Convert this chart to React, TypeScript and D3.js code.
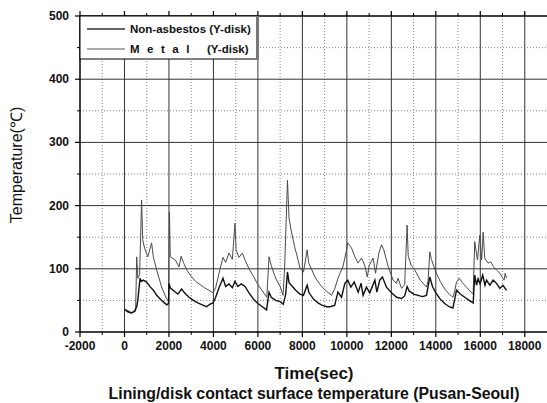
import React from "react";
import * as d3 from "d3";

const seriesNames = ["Non-asbestos (Y-disk)", "Metal (Y-disk)"];

// Non-asbestos (Y-disk) — lower, dark line: [time sec, temperature °C]
const nonAsbestos: [number, number][] = [
  [0, 36], [150, 32], [300, 30], [450, 33], [550, 40], [600, 50], [700, 85], [760, 80], [850, 82],
  [990, 79], [1170, 71], [1300, 66], [1450, 58], [1670, 50], [1900, 43], [1980, 45], [2000, 77],
  [2060, 70], [2180, 66], [2400, 60], [2570, 68], [2700, 62], [2900, 55], [3100, 50], [3300, 46],
  [3500, 43], [3690, 40], [3850, 44], [3980, 46], [4100, 55], [4250, 70], [4430, 85], [4550, 72],
  [4700, 76], [4850, 70], [4970, 80], [5100, 72], [5250, 76], [5420, 72], [5600, 62], [5800, 52],
  [6000, 45], [6200, 40], [6390, 35], [6500, 63], [6600, 55], [6800, 50], [7000, 48], [7140, 44],
  [7250, 60], [7330, 95], [7400, 78], [7550, 72], [7700, 66], [7890, 60], [8050, 58], [8215, 74],
  [8300, 62], [8500, 52], [8700, 46], [8900, 42], [9100, 40], [9240, 40], [9450, 42], [9600, 63],
  [9760, 55], [9910, 77], [10040, 82], [10180, 71], [10330, 79], [10510, 63], [10640, 77],
  [10730, 58], [10880, 71], [11030, 62], [11260, 82], [11350, 63], [11480, 82], [11600, 87],
  [11780, 71], [12010, 62], [12240, 55], [12460, 53], [12600, 57], [12710, 72], [12800, 65],
  [13000, 60], [13200, 58], [13400, 56], [13580, 58], [13730, 87], [13850, 72], [14000, 62],
  [14200, 52], [14400, 45], [14600, 40], [14770, 38], [14850, 52], [14930, 66], [15100, 60],
  [15300, 55], [15500, 50], [15680, 46], [15750, 90], [15830, 74], [15900, 84], [15990, 76],
  [16110, 90], [16210, 74], [16280, 82], [16430, 74], [16580, 82], [16730, 77], [16880, 69],
  [17020, 74], [17180, 66],
];

// Metal (Y-disk) — upper, grey line
const metal: [number, number][] = [
  [0, 36], [200, 33], [350, 30], [500, 33], [550, 119], [600, 85], [680, 90], [770, 209],
  [820, 146], [900, 133], [1050, 119], [1220, 141], [1300, 118], [1450, 98], [1670, 71],
  [1900, 52], [1980, 50], [2020, 190], [2060, 119], [2290, 114], [2450, 103], [2550, 120],
  [2650, 110], [2800, 98], [3000, 88], [3200, 80], [3400, 75], [3600, 70], [3800, 66], [3980, 62],
  [4100, 70], [4300, 100], [4430, 118], [4550, 110], [4700, 125], [4850, 115], [4970, 172],
  [5020, 130], [5150, 118], [5300, 125], [5420, 114], [5600, 100], [5800, 88], [6000, 75],
  [6200, 65], [6400, 55], [6500, 119], [6600, 105], [6800, 85], [7000, 72], [7130, 58], [7200, 100],
  [7330, 240], [7400, 180], [7500, 160], [7650, 135], [7800, 115], [7900, 100], [8050, 95],
  [8215, 130], [8280, 110], [8400, 100], [8600, 85], [8800, 75], [8920, 70], [9100, 64], [9310, 58],
  [9450, 68], [9600, 85], [9690, 93], [9820, 103], [9990, 130], [10040, 141], [10210, 133],
  [10360, 119], [10500, 109], [10660, 117], [10800, 106], [10920, 87], [11000, 105], [11180, 117],
  [11290, 93], [11440, 125], [11560, 138], [11660, 130], [11860, 103], [12080, 82], [12230, 77],
  [12300, 85], [12460, 69], [12600, 75], [12710, 169], [12760, 120], [12900, 105], [13060, 98],
  [13300, 82], [13580, 71], [13650, 80], [13730, 127], [13800, 115], [14000, 95], [14200, 80],
  [14400, 68], [14600, 60], [14770, 55], [14850, 65], [14930, 79], [15050, 85], [15200, 78],
  [15400, 70], [15680, 60], [15750, 143], [15870, 114], [15980, 153], [16060, 114], [16130, 158],
  [16200, 117], [16350, 109], [16470, 111], [16600, 103], [16730, 98], [16880, 93], [16980, 87],
  [17070, 82], [17120, 93], [17180, 85],
];

const xMajorTicks = [-2000, 0, 2000, 4000, 6000, 8000, 10000, 12000, 14000, 16000, 18000];
const xMinorTicks = [-1000, 1000, 3000, 5000, 7000, 9000, 11000, 13000, 15000, 17000];
const yMajorTicks = [0, 100, 200, 300, 400, 500];
const yMinorTicks = [50, 150, 250, 350, 450];

const W = 547;
const H = 403;
const left = 80;
const right = 547;
const top = 16;
const bottom = 332;
const font = "'Liberation Sans', Arial, sans-serif";

export default function App() {
  const x = d3.scaleLinear().domain([-2000, 19000]).range([left, right]);
  const y = d3.scaleLinear().domain([0, 500]).range([bottom, top]);
  const line = d3
    .line<[number, number]>()
    .x((d) => x(d[0]))
    .y((d) => y(d[1]));

  return (
    <svg
      width={W}
      height={H}
      style={{ position: "absolute", left: 0, top: 0, background: "#fff" }}
      fontFamily={font}
    >
      <rect x={0} y={0} width={W} height={H} fill="#fff" />
      {/* minor grid */}
      {xMinorTicks.map((t) => (
        <line key={"xm" + t} x1={x(t)} x2={x(t)} y1={top} y2={bottom} stroke="#666" strokeWidth={0.8} strokeDasharray="1,2" />
      ))}
      {yMinorTicks.map((t) => (
        <line key={"ym" + t} x1={left} x2={right} y1={y(t)} y2={y(t)} stroke="#666" strokeWidth={0.8} strokeDasharray="1,2" />
      ))}
      {/* major grid */}
      {xMajorTicks.filter((t) => t > -2000).map((t) => (
        <line key={"xM" + t} x1={x(t)} x2={x(t)} y1={top} y2={bottom} stroke="#333" strokeWidth={1} />
      ))}
      {yMajorTicks.filter((t) => t > 0 && t < 500).map((t) => (
        <line key={"yM" + t} x1={left} x2={right} y1={y(t)} y2={y(t)} stroke="#333" strokeWidth={1} />
      ))}
      {/* data */}
      <path d={line(metal) || ""} fill="none" stroke="#4a4a4a" strokeWidth={1} />
      <path d={line(nonAsbestos) || ""} fill="none" stroke="#111" strokeWidth={1.4} />
      {/* axes frame */}
      <line x1={left} x2={right} y1={bottom} y2={bottom} stroke="#000" strokeWidth={1.5} />
      <line x1={left} x2={right} y1={top} y2={top} stroke="#000" strokeWidth={1.5} />
      <line x1={left} x2={left} y1={top} y2={bottom} stroke="#000" strokeWidth={1.5} />
      {/* ticks */}
      {xMajorTicks.map((t) => (
        <g key={"xt" + t}>
          <line x1={x(t)} x2={x(t)} y1={bottom} y2={bottom + 5} stroke="#000" strokeWidth={1.2} />
          <line x1={x(t)} x2={x(t)} y1={top} y2={top - 5} stroke="#000" strokeWidth={1.2} />
          <text x={x(t)} y={bottom + 18} textAnchor="middle" fontSize={12} fontWeight="bold" fill="#111">
            {t}
          </text>
        </g>
      ))}
      {xMinorTicks.map((t) => (
        <g key={"xmt" + t}>
          <line x1={x(t)} x2={x(t)} y1={bottom} y2={bottom + 3} stroke="#000" strokeWidth={1} />
          <line x1={x(t)} x2={x(t)} y1={top} y2={top - 3} stroke="#000" strokeWidth={1} />
        </g>
      ))}
      {yMajorTicks.map((t) => (
        <g key={"yt" + t}>
          <line x1={left - 5} x2={left} y1={y(t)} y2={y(t)} stroke="#000" strokeWidth={1.2} />
          <text x={left - 11} y={y(t) + 4} textAnchor="end" fontSize={12} fontWeight="bold" fill="#111">
            {t}
          </text>
        </g>
      ))}
      {yMinorTicks.map((t) => (
        <line key={"ymt" + t} x1={left - 3} x2={left} y1={y(t)} y2={y(t)} stroke="#000" strokeWidth={1} />
      ))}
      {/* legend */}
      <rect x={left} y={top} width={177} height={43} fill="#fff" stroke="#000" strokeWidth={1} />
      <line x1={left + 177.5} x2={left + 177.5} y1={top} y2={top + 43} stroke="#777" strokeWidth={3} />
      <line x1={87} x2={125} y1={29} y2={29} stroke="#333" strokeWidth={1.4} />
      <line x1={87} x2={125} y1={49} y2={49} stroke="#555" strokeWidth={1} />
      <text x={130} y={33} fontSize={11.5} fontWeight="bold" fill="#111">
        {seriesNames[0]}
      </text>
      <text x={130} y={53} fontSize={11.5} fontWeight="bold" fill="#111">
        <tspan letterSpacing={7.5}>Metal</tspan>
        <tspan x={207}>(Y-disk)</tspan>
      </text>
      {/* axis titles */}
      <text x={314} y={379} textAnchor="middle" fontSize={17} fontWeight="bold" fill="#111">
        Time(sec)
      </text>
      <text x={314} y={399} textAnchor="middle" fontSize={15.8} fontWeight="bold" fill="#111">
        Lining/disk contact surface temperature (Pusan-Seoul)
      </text>
      <text
        transform={`translate(22,${165}) rotate(-90)`}
        textAnchor="middle"
        fontSize={16}
        fontWeight="normal"
        fill="#111"
      >
        Temperature(℃)
      </text>
    </svg>
  );
}
